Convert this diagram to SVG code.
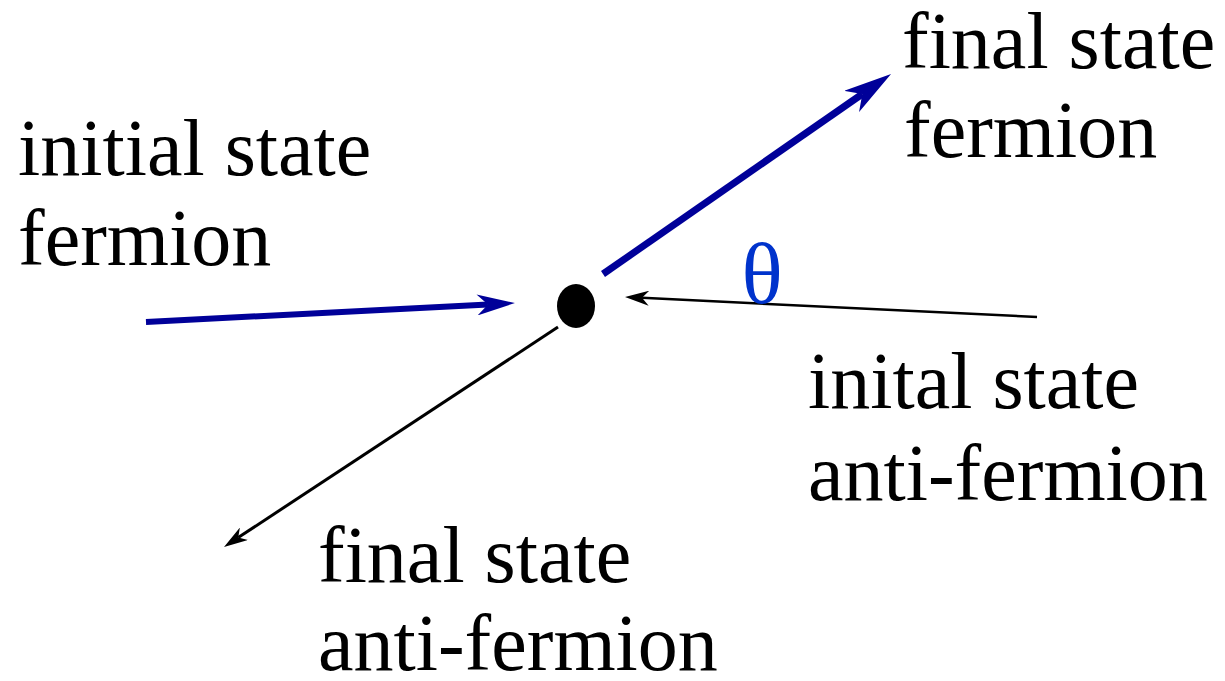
<svg xmlns="http://www.w3.org/2000/svg" width="1225" height="681" viewBox="0 0 1225 681">
  <style>
    .lbl { font-family: "Liberation Serif", "Times New Roman", serif; font-size: 80px; fill: #000; }
    .theta { font-family: "Liberation Serif", "Times New Roman", serif; font-size: 86px; fill: #0033cc; }
    .blue { stroke: #000099; fill: none; }
    .blk { stroke: #000; fill: none; }
  </style>
  <defs>
    <marker id="headBlueA" markerUnits="userSpaceOnUse" viewBox="0 0 38 21" markerWidth="38" markerHeight="21" refX="11" refY="10.5" orient="auto">
      <path d="M0,0 L38,10.5 L0,21 L11,10.5 Z" fill="#000099"/>
    </marker>
    <marker id="headBlueB" markerUnits="userSpaceOnUse" viewBox="0 0 48 26" markerWidth="48" markerHeight="26" refX="13" refY="13" orient="auto">
      <path d="M0,0 L48,13 L0,26 L13,13 Z" fill="#000099"/>
    </marker>
    <marker id="headBlack" markerUnits="userSpaceOnUse" viewBox="0 0 24 15" markerWidth="24" markerHeight="15" refX="7" refY="7.5" orient="auto">
      <path d="M0,0 L24,7.5 L0,15 L7,7.5 Z" fill="#000"/>
    </marker>
  </defs>

  <g id="connectors">
    <line class="blue" x1="146" y1="322" x2="488" y2="304.4" stroke-width="6" marker-end="url(#headBlueA)"/>
    <line class="blue" x1="603" y1="274" x2="862.3" y2="94" stroke-width="7" marker-end="url(#headBlueB)"/>
    <line class="blk" x1="1037" y1="317" x2="642" y2="297.8" stroke-width="2.5" marker-end="url(#headBlack)"/>
    <line class="blk" x1="558" y1="327" x2="238.2" y2="537.6" stroke-width="3" marker-end="url(#headBlack)"/>
  </g>

  <g id="vertex">
    <ellipse cx="576" cy="306" rx="19" ry="22" fill="#000"/>
  </g>

  <g id="angle">
    <text class="theta" x="762" y="303" text-anchor="middle">θ</text>
  </g>

  <g id="initial-fermion">
    <text class="lbl" x="18" y="175">initial state</text>
    <text class="lbl" x="18" y="265">fermion</text>
  </g>

  <g id="final-fermion">
    <text class="lbl" x="902" y="68">final state</text>
    <text class="lbl" x="904" y="157">fermion</text>
  </g>

  <g id="initial-antifermion">
    <text class="lbl" x="808" y="408">inital state</text>
    <text class="lbl" x="808" y="500">anti-fermion</text>
  </g>

  <g id="final-antifermion">
    <text class="lbl" x="318" y="582">final state</text>
    <text class="lbl" x="318" y="670">anti-fermion</text>
  </g>
</svg>
